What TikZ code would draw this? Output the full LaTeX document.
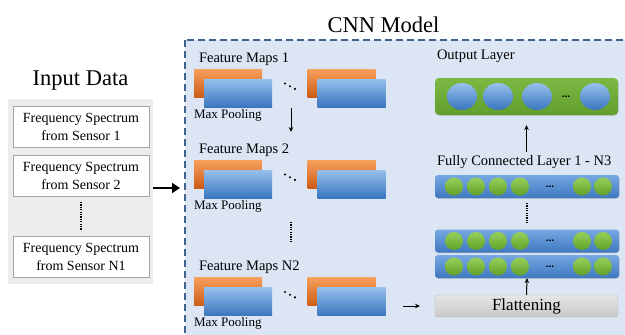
\documentclass[tikz,border=0pt]{standalone}
\usepackage{fontspec}
\setmainfont{Liberation Serif}
\newfontfamily\timesfont{Liberation Serif}
\usetikzlibrary{arrows.meta, shapes.geometric, shadows, positioning}

\definecolor{cnnfill}{RGB}{220,229,243}
\definecolor{cnnline}{RGB}{62,98,138}
\definecolor{panelfill}{RGB}{236,236,236}
\definecolor{boxline}{RGB}{165,165,165}
\definecolor{orangetop}{RGB}{246,160,92}
\definecolor{orangebot}{RGB}{204,92,24}
\definecolor{bluetop}{RGB}{150,192,236}
\definecolor{bluebot}{RGB}{58,118,190}
\definecolor{bartop}{RGB}{118,168,226}
\definecolor{barbot}{RGB}{62,120,192}
\definecolor{greentop}{RGB}{150,208,90}
\definecolor{greenbot}{RGB}{96,160,42}
\definecolor{grasstop}{RGB}{124,184,66}
\definecolor{grassbot}{RGB}{98,158,46}
\definecolor{flattop}{RGB}{230,230,230}
\definecolor{flatbot}{RGB}{200,200,200}

\begin{document}
\begin{tikzpicture}
  [
    x=1pt, y=-1pt,
    every node/.style={inner sep=0pt, outer sep=0pt},
    bigtitle/.style={font=\timesfont\fontsize{22.5}{26}\selectfont, anchor=base},
    maptext/.style={font=\timesfont\fontsize{14.5}{17}\selectfont, anchor=base west},
    pooltext/.style={font=\timesfont\fontsize{13}{15}\selectfont, anchor=base west},
    specbox/.style={draw=boxline, fill=white, minimum width=136pt, minimum height=41pt,
      align=center, font=\timesfont\fontsize{14}{18}\selectfont},
    omap/.style={minimum width=68pt, minimum height=28pt, top color=orangetop, bottom color=orangebot},
    bmap/.style={minimum width=68pt, minimum height=28pt, top color=bluetop, bottom color=bluebot},
    fcbar/.style={minimum width=184pt, minimum height=23pt, rounded corners=3pt,
      top color=bartop, bottom color=barbot,
      drop shadow={shadow xshift=0.6pt, shadow yshift=-0.8pt, opacity=0.3}},
    neuron/.style={circle, minimum size=18pt, top color=greentop, bottom color=greenbot},
    outbar/.style={minimum width=183pt, minimum height=37pt, rounded corners=4pt,
      top color=grasstop, bottom color=grassbot,
      drop shadow={shadow xshift=0.6pt, shadow yshift=-0.8pt, opacity=0.3}},
    outneuron/.style={ellipse, minimum width=30pt, minimum height=27pt, top color=bluetop, bottom color=bluebot},
    flatbox/.style={draw=boxline!80, minimum width=183pt, minimum height=22pt, rounded corners=3pt,
      top color=flattop, bottom color=flatbot, font=\timesfont\fontsize{17}{20}\selectfont},
    dotsym/.style={font=\timesfont\bfseries\fontsize{11}{12}\selectfont},
    thinarrow/.style={-{Stealth[length=5pt, width=4.5pt]}, line width=1pt},
    bigarrow/.style={-{Triangle[length=8pt, width=10pt]}, line width=2.6pt},
    dotline/.style={line width=1.6pt, dash pattern=on 1.2pt off 1.2pt}
  ]
  \clip (0,0) rectangle (625,335);
  \fill[white] (0,0) rectangle (625,335);

  \node[bigtitle] (intitle) at (80.5,85) {Input Data};
  \node[minimum width=145pt, minimum height=185pt, fill=panelfill] (panel) at (80.5,191.5) {};
  \node[specbox] (s1) at (81,127) {Frequency Spectrum\\from Sensor 1};
  \node[specbox] (s2) at (81,175.5) {Frequency Spectrum\\from Sensor 2};
  \node[specbox] (s3) at (81,257) {Frequency Spectrum\\from Sensor N1};
  \draw[dotline] ([yshift=-6pt]s2.south) -- ([yshift=7pt]s3.north);

  \filldraw[fill=cnnfill, draw=cnnline, line width=1.2pt, dash pattern=on 7pt off 4pt]
    (185,40) rectangle (680,380);
  \node[bigtitle] (cnntitle) at (383.5,32) {CNN Model};
  \coordinate (arrin) at (180,188);
  \draw[bigarrow] ([yshift=3.5pt]panel.east) -- (arrin);

  \foreach \r/\y/\t in {1/83/1, 2/174/2, 3/291.5/N2} {
    \node[maptext] (fm\r) at (199,\y-21) {Feature Maps \t};
    \node[omap] (fmo\r a) at (228,\y) {};
    \node[bmap] (fmb\r a) at (238,\y+10) {};
    \node[omap] (fmo\r b) at (341.5,\y) {};
    \node[bmap] (fmb\r b) at (351.5,\y+10) {};
    \node[pooltext] (mp\r) at (194,\y+35) {Max Pooling};
    \foreach \k in {0,1,2}
      \fill (285+5*\k,\y+0.5+2.7*\k) circle (1.2pt);
  }
  \coordinate (d1s) at (291,108);
  \coordinate (d1e) at (291,132);
  \draw[thinarrow] (d1s) -- (d1e);
  \coordinate (d2s) at (291,222);
  \coordinate (d2e) at (291,243);
  \draw[dotline] (d2s) -- (d2e);

  \node[flatbox] (flat) at (526.5,306) {Flattening};
  \draw[thinarrow] ([xshift=-32pt]flat.west) -- ([xshift=-15pt]flat.west);

  \node[fcbar] (fc1) at (527,266.5) {};
  \node[fcbar] (fc2) at (527,241) {};
  \node[fcbar] (fc3) at (527,186.5) {};
  \foreach \b/\y in {1/266.5, 2/241, 3/186.5} {
    \foreach \xx [count=\k] in {454,476,498,520,582,603}
      \node[neuron] (n\b-\k) at (\xx,\y) {};
    \node[dotsym] (nd\b) at (550,\y) {...};
  }
  \draw[thinarrow] (flat.north) -- (fc1.south);
  \draw[dotline] ([yshift=-5pt]fc3.south) -- ([yshift=5pt]fc2.north);
  \node[maptext] (fctext) at (437,165) {Fully Connected Layer 1 - N3};

  \node[maptext] (outtext) at (437,59) {Output Layer};
  \node[outbar] (out) at (526.5,96.5) {};
  \foreach \xx [count=\k] in {462,498,537,595}
    \node[outneuron] (on\k) at (\xx,96.5) {};
  \node[dotsym] (ond) at (566,96.5) {...};
  \draw[thinarrow] ([yshift=-37pt]out.south) -- ([yshift=-10pt]out.south);
\end{tikzpicture}
\end{document}
